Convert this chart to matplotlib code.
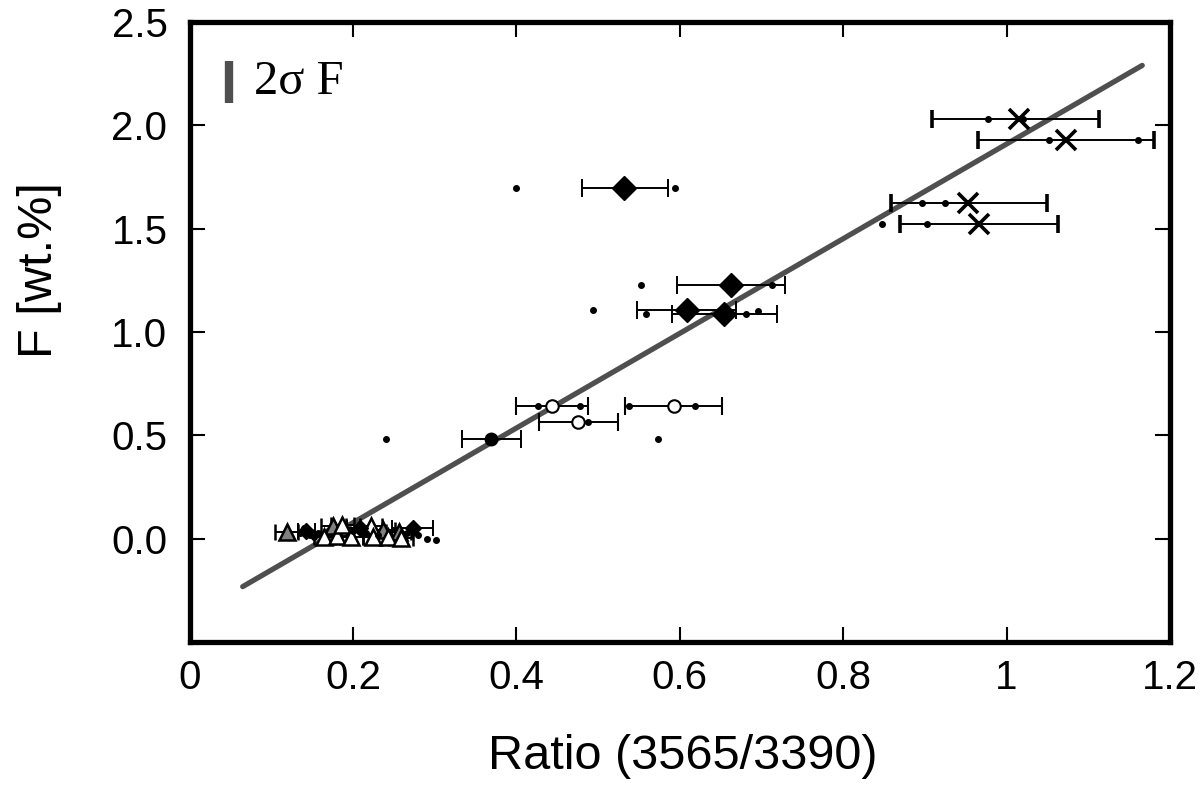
import matplotlib
matplotlib.use("Agg")
import matplotlib.pyplot as plt
import matplotlib.transforms as mtransforms

# ---------------- data ----------------
# Crosses (mean ratio, F, ratio error range)
cross_x = [1.015, 1.073, 0.953, 0.966]
cross_y = [2.03, 1.93, 1.623, 1.522]
cross_xlo = [0.909, 0.965, 0.859, 0.870]
cross_xhi = [1.113, 1.180, 1.050, 1.063]

# Large black diamonds
dia_x = [0.532, 0.663, 0.609, 0.654]
dia_y = [1.696, 1.227, 1.106, 1.087]
dia_xlo = [0.480, 0.597, 0.548, 0.590]
dia_xhi = [0.586, 0.729, 0.669, 0.719]

# Open circles
oc_x = [0.444, 0.593, 0.475]
oc_y = [0.643, 0.643, 0.565]
oc_xlo = [0.400, 0.533, 0.428]
oc_xhi = [0.488, 0.652, 0.524]

# Filled circle
fc_x = [0.369]
fc_y = [0.483]
fc_xlo = [0.333]
fc_xhi = [0.406]

# Low-F cluster: grey triangles, white triangles, small black diamonds
gt_x = [0.119, 0.176, 0.237, 0.256]
gt_y = [0.035, 0.060, 0.045, 0.035]
gt_xerr = [0.014, 0.015, 0.015, 0.015]

wt_x = [0.165, 0.181, 0.187, 0.198, 0.222, 0.225, 0.243, 0.259]
wt_y = [0.010, 0.015, 0.065, 0.010, 0.060, 0.010, 0.010, 0.005]
wt_xerr = [0.013, 0.013, 0.014, 0.014, 0.014, 0.013, 0.013, 0.015]

sd_x = [0.273, 0.208, 0.143]
sd_y = [0.050, 0.050, 0.040]
sd_xerr = [0.025, 0.015, 0.010]

# Individual measurements (small dots)
pt_x = [0.977, 1.020, 1.052, 1.161, 0.897, 0.924, 0.902, 0.848,
        0.400, 0.594, 0.553, 0.713, 0.494, 0.559, 0.681, 0.696,
        0.427, 0.478, 0.538, 0.618, 0.488, 0.240, 0.573,
        0.135, 0.140, 0.147, 0.152, 0.157, 0.200, 0.212, 0.216,
        0.230, 0.266, 0.280, 0.290, 0.301]
pt_y = [2.03, 2.03, 1.93, 1.93, 1.623, 1.623, 1.522, 1.522,
        1.696, 1.696, 1.227, 1.227, 1.106, 1.087, 1.087, 1.10,
        0.643, 0.643, 0.643, 0.643, 0.565, 0.483, 0.483,
        0.030, 0.050, 0.020, 0.010, 0.030, 0.040, 0.050, 0.030,
        0.020, 0.030, 0.020, 0.000, -0.005]

# Regression line F = slope * ratio + intercept
fit_slope = 2.29
fit_intercept = -0.38
fit_range = [0.065, 1.166]

sigma2_F = 0.2  # 2-sigma F scale bar

xticks = [0, 0.2, 0.4, 0.6, 0.8, 1.0, 1.2]
xticklabels = ["0", "0.2", "0.4", "0.6", "0.8", "1", "1.2"]
yticks = [0.0, 0.5, 1.0, 1.5, 2.0, 2.5]
yticklabels = ["0.0", "0.5", "1.0", "1.5", "2.0", "2.5"]

# ---------------- plot ----------------
plt.rcParams['font.family'] = ['Liberation Sans', 'DejaVu Sans']

fig = plt.figure(figsize=(12, 7.87), dpi=100)
ax = fig.add_axes([0.158, 0.184, 0.817, 0.788])

eb = dict(ls='none', ecolor='black', elinewidth=1.4, capsize=6.5, capthick=1.4)

# regression line (drawn first, under markers)
fx = fit_range
fy = [fit_slope * v + fit_intercept for v in fx]
ax.plot(fx, fy, color='#4f4f4f', lw=3.8, solid_capstyle='round', zorder=2)

def xe(x, lo, hi):
    return [[a - l for a, l in zip(x, lo)], [h - a for a, h in zip(x, hi)]]

ax.errorbar(cross_x, cross_y, xerr=xe(cross_x, cross_xlo, cross_xhi),
            marker='x', ms=14, mew=2.6, color='black', zorder=4, **eb)
ax.errorbar(dia_x, dia_y, xerr=xe(dia_x, dia_xlo, dia_xhi),
            marker='D', ms=12, mfc='black', mec='black', zorder=4, **eb)
ax.errorbar(oc_x, oc_y, xerr=xe(oc_x, oc_xlo, oc_xhi),
            marker='o', ms=9, mfc='white', mec='black', mew=1.5, zorder=4, **eb)
ax.errorbar(fc_x, fc_y, xerr=xe(fc_x, fc_xlo, fc_xhi),
            marker='o', ms=9, mfc='black', mec='black', zorder=4, **eb)

eb_small = dict(ls='none', ecolor='black', elinewidth=1.4, capsize=5.5, capthick=1.4)
ax.errorbar(gt_x, gt_y, xerr=gt_xerr, marker='^', ms=12, mfc='#7f7f7f',
            mec='black', mew=1.8, zorder=4, **eb_small)
ax.errorbar(wt_x, wt_y, xerr=wt_xerr, marker='^', ms=12, mfc='white',
            mec='black', mew=1.8, zorder=4, **eb_small)
ax.errorbar(sd_x, sd_y, xerr=sd_xerr, marker='D', ms=8, mfc='black',
            mec='black', zorder=4, **eb_small)

ax.plot(pt_x, pt_y, ls='none', marker='o', ms=4, color='black', zorder=5)

# 2-sigma F scale bar (x in axes fraction, y in data)
trans = mtransforms.blended_transform_factory(ax.transAxes, ax.transData)
ax.plot([0.04, 0.04], [2.11, 2.11 + sigma2_F], transform=trans,
        color='#4f4f4f', lw=6, solid_capstyle='butt', zorder=5)
ax.text(0.066, 2.11 + sigma2_F / 2, "2σ F", transform=trans,
        family=['Liberation Serif', 'DejaVu Serif'], fontsize=35,
        va='center', ha='left')

ax.set_xlim(0, 1.2)
ax.set_ylim(-0.5, 2.5)
ax.set_xticks(xticks)
ax.set_xticklabels(xticklabels)
ax.set_yticks(yticks)
ax.set_yticklabels(yticklabels)

for s in ax.spines.values():
    s.set_linewidth(3.8)

ax.tick_params(direction='in', length=11, width=1.5, labelsize=29,
               top=True, right=True)
ax.tick_params(axis='x', pad=12)
ax.tick_params(axis='y', pad=16)

ax.set_xlabel("Ratio (3565/3390)", fontsize=35)
ax.set_ylabel("F [wt.%]", fontsize=35)
ax.xaxis.set_label_coords(0.503, -0.148)
ax.yaxis.set_label_coords(-0.13, 0.6)

fig.savefig("out.png", dpi=100)
